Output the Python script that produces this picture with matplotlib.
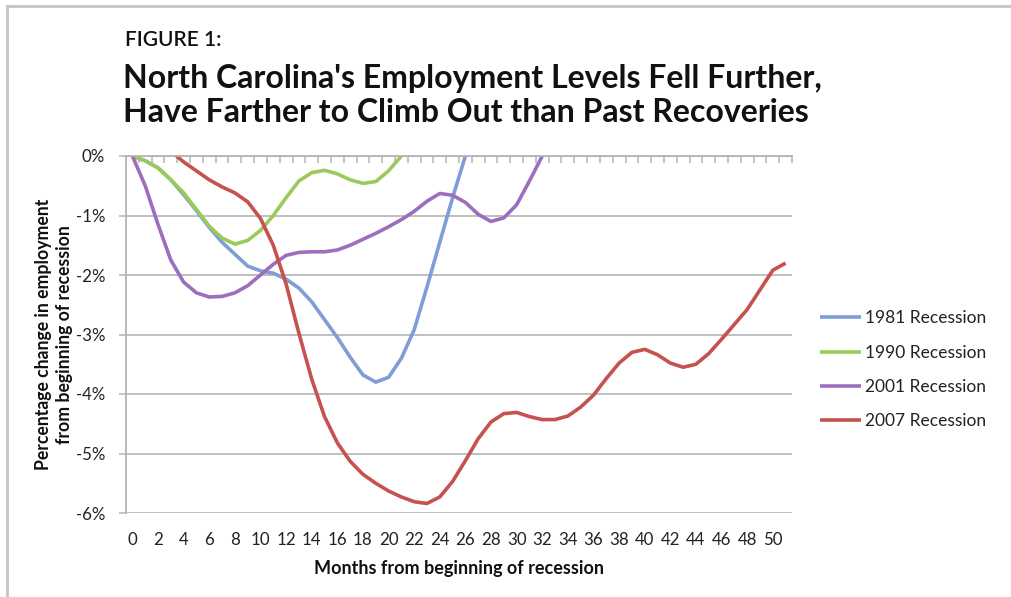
import numpy as np
import matplotlib
matplotlib.use("Agg")
import matplotlib.pyplot as plt
from matplotlib.lines import Line2D

# ---- data (percent change in employment from start of recession) ----
months_1981 = list(range(0, 27))
r1981 = [0.0, -0.08, -0.2, -0.4, -0.65, -0.92, -1.2, -1.45, -1.65, -1.85, -1.93,
         -1.97, -2.07, -2.22, -2.45, -2.75, -3.05, -3.38, -3.68, -3.8, -3.72,
         -3.4, -2.92, -2.2, -1.45, -0.7, 0.0]

months_1990 = list(range(0, 22))
r1990 = [0.0, -0.08, -0.2, -0.4, -0.62, -0.9, -1.18, -1.38, -1.48, -1.42, -1.25,
         -1.0, -0.7, -0.42, -0.28, -0.24, -0.3, -0.4, -0.46, -0.43, -0.25, 0.0]

months_2001 = list(range(0, 33))
r2001 = [0.0, -0.5, -1.15, -1.75, -2.12, -2.3, -2.37, -2.36, -2.3, -2.18, -2.0,
         -1.82, -1.67, -1.62, -1.61, -1.61, -1.58, -1.5, -1.4, -1.3, -1.19,
         -1.07, -0.93, -0.76, -0.63, -0.66, -0.78, -0.98, -1.1, -1.04, -0.82,
         -0.42, 0.0]

months_2007 = list(range(0, 52))
r2007 = [0.15, 0.25, 0.2, 0.08, -0.1, -0.25, -0.4, -0.52, -0.62, -0.77, -1.05,
         -1.5, -2.15, -2.98, -3.75, -4.38, -4.82, -5.13, -5.35, -5.5, -5.63,
         -5.73, -5.81, -5.84, -5.73, -5.47, -5.12, -4.75, -4.47, -4.33, -4.31,
         -4.38, -4.43, -4.43, -4.37, -4.22, -4.02, -3.74, -3.48, -3.3, -3.25,
         -3.34, -3.48, -3.55, -3.5, -3.32, -3.08, -2.83, -2.58, -2.25, -1.92, -1.8]

series_labels = ["1981 Recession", "1990 Recession", "2001 Recession", "2007 Recession"]
colors = ["#7f9dd6", "#9acb5a", "#9c6fbe", "#c5524f"]

y_ticks = [0, -1, -2, -3, -4, -5, -6]
y_ticklabels = ["0%", "-1%", "-2%", "-3%", "-4%", "-5%", "-6%"]
x_ticks = list(range(0, 51, 2))

title_small = "FIGURE 1:"
title_line1 = "North Carolina's Employment Levels Fell Further,"
title_line2 = "Have Farther to Climb Out than Past Recoveries"
xlabel = "Months from beginning of recession"
ylabel = "Percentage change in employment\nfrom beginning of recession"

# ---- figure ----
W, H = 1011, 597
fig = plt.figure(figsize=(W / 100, H / 100), dpi=100)
FONT = "Lato"
plt.rcParams["font.family"] = [FONT, "DejaVu Sans"]

ax_l, ax_r, ax_t, ax_b = 126, 792, 156, 513
ax = fig.add_axes([ax_l / W, 1 - ax_b / H, (ax_r - ax_l) / W, (ax_b - ax_t) / H])

grid_c = "#b4b4b4"
txt_c = "#222222"
lw = 2.6
for (m, v), lab, c in zip([(months_1981, r1981), (months_1990, r1990),
                           (months_2001, r2001), (months_2007, r2007)],
                          series_labels, colors):
    ax.plot(m, v, color=c, lw=lw, label=lab, solid_joinstyle="round",
            solid_capstyle="butt")

ax.set_xlim(-0.5, 51.5)
ax.set_ylim(-6, 0)

ax.set_yticks(y_ticks)
ax.set_yticklabels(y_ticklabels)
ax.yaxis.grid(True, color=grid_c, lw=1.2)
ax.set_axisbelow(True)

ax.set_xticks(x_ticks)
ax.set_xticklabels([str(t) for t in x_ticks])
ax.set_xticks(np.arange(0.5, 51.6, 1.0), minor=True)
ax.tick_params(axis="x", which="major", bottom=False, top=False,
               labelbottom=True, labelsize=12.2, pad=10, labelcolor=txt_c)
ax.tick_params(axis="x", which="minor", bottom=False, top=True,
               direction="in", length=5, width=1.1, color=grid_c)
ax.tick_params(axis="y", which="major", left=True, direction="out", length=5,
               width=1.1, color=grid_c, labelsize=12.2, pad=10, labelcolor=txt_c)

for s in ["right", "bottom"]:
    ax.spines[s].set_visible(False)
for s in ["top", "left"]:
    ax.spines[s].set_color(grid_c)
    ax.spines[s].set_linewidth(1.3)

ax.set_xlabel(xlabel, fontsize=13, fontweight="bold", labelpad=9, color="#111111")
ax.set_ylabel(ylabel, fontsize=12.7, fontweight="bold", labelpad=2,
              linespacing=1.3, color="#111111")

leg = ax.legend(loc="center left", bbox_to_anchor=(1.018, 0.401), frameon=False,
                fontsize=12.5, handlelength=2.4, handletextpad=0.2,
                labelspacing=1.06)
for t in leg.get_texts():
    t.set_color(txt_c)

# titles
fig.text(125 / W, 1 - 46 / H, title_small, fontsize=15, fontweight="semibold",
         ha="left", va="baseline", color="#111111")
fig.text(123 / W, 1 - 88 / H, title_line1, fontsize=23, fontweight="bold",
         ha="left", va="baseline", color="#111111")
fig.text(123 / W, 1 - 122 / H, title_line2, fontsize=23, fontweight="bold",
         ha="left", va="baseline", color="#111111")

# outer frame (top and left edges)
fig.add_artist(Line2D([7 / W, 7 / W], [0, 1 - 6 / H], transform=fig.transFigure,
                      color="#c4c4c4", lw=2))
fig.add_artist(Line2D([7 / W, 1], [1 - 6 / H, 1 - 6 / H], transform=fig.transFigure,
                      color="#c4c4c4", lw=2))

fig.savefig("out.png", dpi=100)
